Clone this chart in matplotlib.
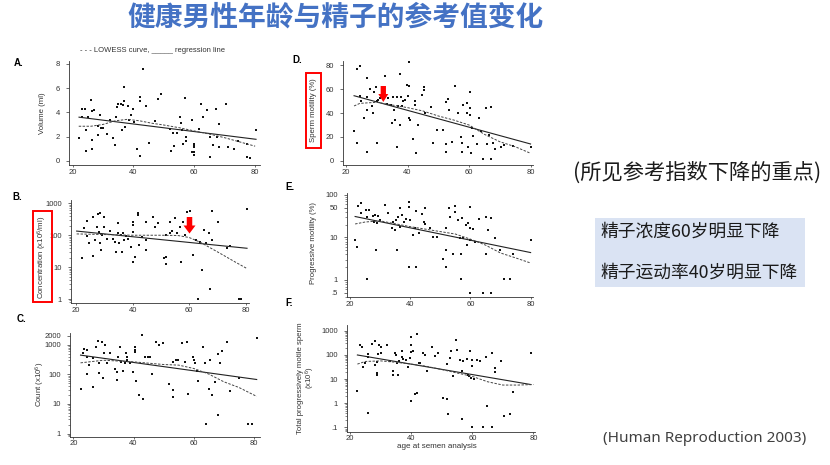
import numpy as np
import matplotlib.pyplot as plt
from matplotlib.patches import Rectangle, FancyArrow
from matplotlib.ticker import FixedLocator, FixedFormatter, LogLocator, NullFormatter

plt.rcParams['font.family'] = ['Liberation Sans', 'DejaVu Sans']
plt.rcParams['mathtext.default'] = 'regular'

W, H = 830, 465

# ---- A. volume
vol_age = [22.1, 23.0, 23.2, 24.2, 24.3, 24.3, 25.2, 26.0, 26.3, 26.3,
           26.3, 27.1, 28.2, 29.0, 28.2, 29.3, 30.1, 31.2, 32.3, 33.2,
           34.0, 34.3, 34.7, 35.0, 35.8, 36.1, 36.7, 37.0, 37.0, 37.2,
           38.1, 38.6, 39.2, 39.7, 40.3, 41.2, 42.2, 42.2, 42.2, 43.0,
           44.1, 45.2, 47.1, 48.2, 49.1, 52.0, 52.2, 53.1, 53.3, 54.2,
           55.3, 55.5, 55.9, 56.2, 57.0, 57.2, 57.2, 59.2, 59.9, 59.9,
           59.9, 59.9, 60.0, 59.4, 61.4, 62.2, 63.0, 64.1, 65.0, 65.2,
           66.1, 67.2, 67.4, 68.2, 68.2, 70.3, 71.2, 73.2, 74.3, 77.3,
           77.3, 78.4, 80.3]
vol = [1.9, 3.6, 4.3, 4.3, 2.5, 0.8, 3.6, 5.0, 4.1, 1.7,
       1.0, 4.2, 2.1, 3.8, 2.9, 2.7, 2.7, 2.2, 3.4, 1.9,
       1.3, 3.6, 4.4, 4.7, 4.7, 2.5, 4.6, 6.1, 4.9, 2.8,
       4.5, 3.4, 3.8, 4.3, 3.2, 1.0, 4.9, 5.3, 0.4, 7.6,
       4.5, 1.5, 3.3, 5.1, 5.5, 2.6, 0.8, 2.3, 1.2, 2.3,
       3.6, 3.1, 2.5, 1.4, 5.2, 2.0, 1.6, 3.4, 1.4, 1.2,
       1.1, 0.7, 0.5, 0.7, 2.6, 4.7, 3.6, 4.2, 2.0, 0.3,
       1.3, 4.3, 2.0, 3.0, 1.1, 4.7, 1.1, 1.0, 1.6, 1.35,
       0.33, 0.25, 2.5]
vol_reg_x = [22.1, 80.3]
vol_reg_y = [3.6, 1.77]
vol_low_x = [22, 26, 30, 34, 38, 42, 46, 50, 55, 60, 65, 70, 75, 80]
vol_low_y = [2.85, 2.85, 3.0, 3.3, 3.42, 3.3, 3.1, 2.95, 2.73, 2.46, 2.2, 1.9, 1.55, 1.2]

# ---- B. concentration
conc_age = [22.0, 22.8, 23.8, 24.0, 24.7, 25.9, 25.9, 26.7, 27.3, 27.9,
            28.2, 28.5, 28.5, 28.8, 29.1, 29.9, 30.0, 30.8, 32.0, 33.2,
            33.8, 34.0, 34.9, 34.9, 35.3, 35.8, 36.1, 36.5, 36.9, 37.6,
            38.5, 39.3, 40.0, 40.0, 40.2, 40.0, 40.8, 42.0, 42.0, 42.4,
            43.2, 44.9, 44.9, 44.9, 47.1, 48.1, 49.1, 51.1, 51.8, 52.0,
            52.0, 53.2, 53.4, 54.1, 54.9, 55.8, 56.7, 57.1, 57.9, 58.5,
            59.3, 60.2, 61.4, 62.6, 63.2, 63.8, 64.4, 65.2, 66.1, 67.1,
            67.3, 68.2, 68.2, 70.2, 73.4, 74.4, 77.5, 78.5, 80.5]
conc = [19, 174, 286, 98, 56, 382, 22, 71, 186, 452,
        129, 485, 56, 35, 103, 382, 186, 74, 138, 74,
        63, 30, 237, 114, 59, 103, 30, 121, 71, 95,
        74, 44, 210, 267, 129, 14, 21, 430, 485, 49,
        89, 267, 35, 71, 382, 186, 237, 20, 21, 12.4,
        103, 121, 267, 138, 340, 114, 186, 15, 267, 103,
        550, 575, 24, 71, 1.0, 63, 8.2, 145, 56, 114,
        2.1, 590, 71, 267, 39, 47, 1.02, 1.02, 660]
conc_reg_x = [20.2, 80.5]
conc_reg_y = [135, 39]
conc_low_x = [20.2, 30, 40, 50, 56, 60, 64, 68, 72, 76, 80.5]
conc_low_y = [110, 105, 100, 100, 98, 85, 60, 38, 24, 15, 9]

# ---- C. count
count_age = [22.4, 23.3, 23.5, 24.4, 24.6, 24.4, 25.3, 26.4, 26.6, 27.5,
             28.3, 28.5, 28.5, 29.4, 29.7, 30.3, 30.5, 31.3, 32.2, 33.8,
             34.4, 34.6, 34.9, 35.5, 35.8, 36.4, 37.2, 37.5, 37.7, 37.7,
             38.8, 39.7, 40.5, 40.5, 40.6, 40.8, 41.9, 42.7, 43.0, 43.8,
             44.7, 45.5, 46.0, 47.5, 48.6, 49.7, 51.9, 53.0, 53.0, 53.2,
             54.1, 54.9, 56.0, 57.1, 57.9, 58.2, 59.9, 60.2, 60.4, 61.0,
             61.5, 63.2, 63.7, 64.1, 65.2, 65.4, 65.9, 67.0, 68.2, 68.2,
             68.7, 69.3, 70.9, 72.0, 75.1, 78.1, 79.2, 80.9]
count = [33, 510, 695, 660, 393, 102, 205, 344, 38, 812,
         1370, 113, 234, 1265, 73, 510, 974, 234, 510, 146,
         122, 64, 372, 812, 265, 132, 234, 537, 393, 300,
         244, 122, 660, 812, 580, 61, 20, 2130, 15, 372,
         372, 372, 102, 1265, 974, 1170, 49, 29, 17, 265,
         316, 300, 1120, 265, 1265, 21, 393, 300, 244, 129,
         61, 855, 234, 2.1, 33, 300, 20, 56, 480, 4.2,
         234, 630, 1200, 27, 73, 2.1, 2.1, 1640]
count_reg_x = [22.4, 80.9]
count_reg_y = [447, 67]
count_low_x = [22.4, 30, 40, 50, 55, 60, 65, 70, 75, 80.9]
count_low_y = [245, 300, 265, 215, 205, 158, 102, 56, 36, 18]

# ---- D. sperm motility
mot_age = [22.6, 23.7, 24.5, 24.5, 24.8, 23.7, 25.8, 26.7, 26.7, 26.9,
           26.9, 27.8, 28.3, 28.7, 29.2, 29.7, 30.0, 30.0, 30.5, 31.0,
           31.6, 32.1, 32.7, 33.2, 33.8, 34.5, 34.8, 35.4, 35.7, 35.9,
           36.5, 36.7, 37.0, 37.5, 37.5, 37.8, 38.1, 38.6, 39.2, 39.7,
           40.3, 40.6, 40.6, 40.6, 40.8, 41.7, 42.4, 42.4, 42.6, 43.5,
           44.6, 45.3, 45.3, 45.7, 47.5, 48.4, 49.5, 51.6, 52.5, 52.5,
           52.5, 53.3, 53.6, 54.6, 55.4, 56.5, 57.4, 57.6, 57.6, 57.9,
           59.2, 59.2, 59.7, 60.3, 60.3, 60.3, 60.5, 60.8, 61.4, 62.5,
           63.3, 63.8, 64.4, 65.5, 65.7, 66.6, 67.3, 67.3, 67.9, 68.4,
           70.3, 71.3, 74.4, 80.0]
mot = [24.9, 77.2, 79.4, 54.5, 50.0, 14.5, 35.5, 69.1, 53.7, 42.5,
       7.6, 60.1, 45.9, 40.3, 57.3, 62.1, 14.5, 50.0, 50.9, 52.3,
       55.1, 53.1, 71.0, 47.3, 52.3, 46.7, 31.9, 53.7, 42.5, 34.1,
       53.1, 11.7, 45.9, 72.4, 29.9, 53.1, 45.9, 50.3, 50.9, 63.5,
       54.3, 83.1, 62.7, 35.5, 34.1, 17.9, 50.3, 46.7, 6.7, 29.9,
       55.1, 61.5, 59.3, 40.3, 44.8, 14.5, 25.7, 25.7, 49.5, 14.0,
       7.6, 51.5, 42.5, 15.9, 62.7, 40.3, 20.1, 14.5, 7.6, 46.7,
       48.7, 39.7, 11.7, 57.9, 43.9, 38.3, 6.2, 27.1, 20.7, 14.0,
       35.5, 25.2, 1.1, 43.9, 14.0, 21.5, 44.8, 1.1, 14.5, 9.5,
       11.7, 13.1, 12.3, 11.7]
mot_reg_x = [22.6, 80.0]
mot_reg_y = [54.5, 14.0]
mot_low_x = [22.6, 24.5, 30, 35, 40, 45, 50, 55, 60, 65, 70, 75, 80]
mot_low_y = [45.9, 48.1, 49.0, 46.7, 44.5, 41.7, 37.5, 34.1, 29.9, 22.1, 15.9, 11.7, 6.2]

# ---- E. progressive motility
prog_age = [21.5, 22.4, 22.5, 23.5, 23.5, 25.3, 25.5, 25.5, 26.4, 27.5,
            28.0, 28.3, 28.6, 28.9, 29.4, 30.0, 31.6, 32.7, 34.0, 34.4,
            35.0, 35.3, 35.7, 35.8, 36.6, 36.6, 37.2, 37.9, 38.6, 39.7,
            39.7, 39.7, 39.9, 40.8, 41.6, 41.9, 41.9, 43.0, 43.8, 44.7,
            44.9, 44.9, 46.6, 47.7, 48.8, 50.8, 51.9, 51.9, 51.9, 53.0,
            53.2, 54.1, 55.0, 55.0, 56.0, 56.5, 56.9, 56.9, 57.1, 57.6,
            58.7, 59.0, 59.3, 59.9, 59.9, 59.9, 59.9, 61.0, 61.5, 62.9,
            64.3, 65.2, 65.2, 66.0, 67.0, 67.0, 68.2, 69.8, 71.1, 73.1,
            74.0, 80.3]
prog = [8.7, 6.1, 55, 64, 37, 44, 30, 1.04, 44, 32,
        23.6, 34, 5.1, 21.6, 32, 25.9, 58, 37, 16.5, 23.6,
        15, 25.9, 5.1, 31, 49, 17.9, 34, 23.6, 26.9, 68,
        51, 2.0, 25.9, 11.5, 16.5, 42.6, 2.0, 12.5, 35.3, 23.6,
        20.8, 49, 16.5, 10.5, 10.5, 3.1, 16.5, 5.1, 2.0, 49,
        31, 4.1, 55, 39, 25.9, 9.6, 4.1, 1.04, 28, 9.6,
        19.6, 6.6, 21.6, 51, 16.5, 8.7, 0.5, 15.6, 8.0, 26.9,
        0.5, 31, 4.1, 15, 28, 0.5, 9.6, 5.1, 1.04, 1.04,
        4.1, 8.5]
prog_reg_x = [21.7, 80.0]
prog_reg_y = [31, 4.4]
prog_low_x = [21.7, 25, 30, 40, 50, 55, 60, 65, 70, 75, 80]
prog_low_y = [20.7, 23, 24.5, 17.9, 13.7, 12, 9.1, 6.6, 4.3, 3.3, 2.5]

# ---- F. total progressively motile sperm
tpm_age = [22.2, 23.1, 24.0, 24.1, 24.9, 26.0, 26.0, 26.0, 27.1, 28.2,
           28.2, 28.7, 28.9, 28.9, 29.3, 29.5, 30.0, 30.1, 32.0, 33.1,
           34.0, 34.0, 34.7, 35.1, 35.5, 35.8, 36.1, 36.9, 36.9, 37.2,
           38.3, 39.1, 39.6, 39.9, 39.9, 39.9, 39.9, 40.7, 41.1, 41.9,
           41.9, 42.4, 43.0, 43.8, 44.5, 45.1, 46.7, 47.8, 48.9, 50.5,
           51.6, 51.6, 51.9, 52.7, 52.9, 53.8, 54.6, 54.9, 56.0, 56.5,
           56.5, 56.9, 58.2, 58.7, 59.0, 59.3, 59.5, 59.8, 59.8, 60.4,
           59.8, 61.5, 62.5, 63.6, 64.5, 64.7, 66.4, 66.4, 67.5, 67.5,
           69.3, 70.4, 72.4, 73.2, 79.1]
tpm = [3.2, 255, 217, 31, 46, 106, 86, 0.39, 295, 370,
       39, 50, 18, 15.5, 110, 270, 217, 117, 270, 54,
       22.4, 14.5, 117, 100, 46, 15.5, 54, 86, 145, 67,
       63, 31, 73, 136, 255, 550, 1.2, 145, 2.4, 725,
       2.8, 46, 46, 117, 100, 21, 217, 94, 117, 1.65,
       1.5, 42, 0.35, 78, 145, 13, 405, 160, 63, 22.4,
       0.23, 54, 67, 15.5, 13, 145, 11.3, 36, 63, 9.7,
       0.1, 63, 57, 0.1, 86, 0.81, 117, 0.1, 29, 20,
       57, 0.29, 0.37, 2.9, 117]
tpm_reg_x = [22.4, 79.1]
tpm_reg_y = [100, 6.0]
tpm_low_x = [22.4, 25, 30, 35, 40, 45, 50, 55, 60, 65, 70, 75, 80]
tpm_low_y = [42, 54, 57, 50, 42, 34, 25, 18, 13, 7.8, 5.7, 5.7, 6.0]

x_ticks = [20, 40, 60, 80]

fig = plt.figure(figsize=(W / 100, H / 100), dpi=100)


def panel(left, top, right, bottom, xlim, ylim, log=False):
    ax = fig.add_axes([left / W, 1 - bottom / H, (right - left) / W, (bottom - top) / H])
    ax.patch.set_alpha(0)
    for s in ['top', 'right']:
        ax.spines[s].set_visible(False)
    for s in ['left', 'bottom']:
        ax.spines[s].set_linewidth(0.6)
        ax.spines[s].set_color('#333333')
    if log:
        ax.set_yscale('log')
        ax.yaxis.set_minor_locator(LogLocator(base=10, subs=np.arange(2, 10)))
        ax.yaxis.set_minor_formatter(NullFormatter())
    ax.set_xlim(*xlim)
    ax.set_ylim(*ylim)
    ax.set_xticks(x_ticks)
    ax.tick_params(axis='x', length=1.5, width=0.5, pad=1.2, labelsize=5.5,
                   colors='#333333')
    ax.tick_params(axis='y', which='major', length=2.5, width=0.5, pad=4,
                   labelsize=5.5, colors='#333333')
    ax.tick_params(axis='y', which='minor', length=1.5, width=0.4, colors='#333333')
    return ax


def draw(ax, xs, ys, rx, ry, lx, ly):
    ax.scatter(xs, ys, s=1.6, marker='s', color='#111111', linewidths=0)
    ax.plot(rx, ry, color='#222222', lw=0.8)
    ax.plot(lx, ly, color='#444444', lw=0.7, ls=(0, (2.5, 1.5)))


axA = panel(69, 60.7, 260, 165.3, (18.8, 81.6), (-0.38, 8.27))
draw(axA, vol_age, vol, vol_reg_x, vol_reg_y, vol_low_x, vol_low_y)
axA.set_yticks([0, 2, 4, 6, 8])

axB = panel(71, 200, 249, 303, (18.2, 81.2), (0.75, 1273), log=True)
draw(axB, conc_age, conc, conc_reg_x, conc_reg_y, conc_low_x, conc_low_y)
conc_ticks = [1, 10, 100, 1000]
axB.yaxis.set_major_locator(FixedLocator(conc_ticks))
axB.yaxis.set_major_formatter(FixedFormatter(['1', '10', '100', '1000']))

axC = panel(70, 332.7, 260, 436.7, (18.9, 82), (0.78, 2560), log=True)
draw(axC, count_age, count, count_reg_x, count_reg_y, count_low_x, count_low_y)
count_ticks = [1, 10, 100, 1000, 2000]
axC.yaxis.set_major_locator(FixedLocator(count_ticks))
axC.yaxis.set_major_formatter(FixedFormatter(['1', '10', '100', '1000', '2000']))

axD = panel(343.3, 60.7, 533.3, 165.3, (19.1, 80.9), (-3.9, 83.9))
draw(axD, mot_age, mot, mot_reg_x, mot_reg_y, mot_low_x, mot_low_y)
axD.set_yticks([0, 20, 40, 60, 80])

axE = panel(346.7, 193.3, 533.3, 297.3, (18.9, 80.9), (0.39, 109), log=True)
draw(axE, prog_age, prog, prog_reg_x, prog_reg_y, prog_low_x, prog_low_y)
prog_ticks = [0.5, 1, 10, 50, 100]
axE.yaxis.set_major_locator(FixedLocator(prog_ticks))
axE.yaxis.set_major_formatter(FixedFormatter(['.5', '1', '10', '50', '100']))

axF = panel(346.7, 325, 535, 431.7, (18.9, 80.5), (0.067, 1740), log=True)
draw(axF, tpm_age, tpm, tpm_reg_x, tpm_reg_y, tpm_low_x, tpm_low_y)
tpm_ticks = [0.1, 1, 10, 100, 1000]
axF.yaxis.set_major_locator(FixedLocator(tpm_ticks))
axF.yaxis.set_major_formatter(FixedFormatter(['.1', '1', '10', '100', '1000']))

# overlay in pixel coordinates for the slide texts and marks
ov = fig.add_axes([0, 0, 1, 1], zorder=10)
ov.set_xlim(0, W)
ov.set_ylim(H, 0)
ov.axis('off')

cjk = ['Noto Sans CJK SC', 'DejaVu Sans']
ov.text(336, 18, '健康男性年龄与精子的参考值变化', ha='center', va='center',
        fontsize=20, fontweight='bold', color='#4472C4', family=cjk)
ov.text(573, 173, '(所见参考指数下降的重点)', ha='left', va='center',
        fontsize=15.3, color='#1a1a1a', family=cjk)
ov.add_patch(Rectangle((595, 218), 210, 69, facecolor='#DAE3F3', edgecolor='none'))
ov.text(600, 232, '精子浓度60岁明显下降', ha='left', va='center',
        fontsize=12.8, color='#1a1a1a', family=cjk)
ov.text(600, 273, '精子运动率40岁明显下降', ha='left', va='center',
        fontsize=12.8, color='#1a1a1a', family=cjk)
ov.text(705, 438, '(Human Reproduction 2003)', ha='center', va='center',
        fontsize=11, color='#404040', family=['Noto Sans', 'DejaVu Sans'])

ov.text(152, 51, '- - - LOWESS curve, _____ regression line', ha='center',
        va='center', fontsize=5.5, color='#333333')

for lab, x, y in [('A.', 19, 62.5), ('B.', 17.5, 197), ('C.', 21.5, 319),
                  ('D.', 297.5, 60), ('E.', 290, 187), ('F.', 289, 303)]:
    ov.text(x, y, lab, ha='center', va='center', fontsize=7, fontweight='bold')

ylab = dict(rotation=90, ha='center', va='center', fontsize=5.6, color='#333333')
ov.text(42, 113, 'Volume (ml)', **ylab)
ov.text(42, 257, 'Concentration (x10$^6$/ml)', **ylab)
ov.text(40, 384, 'Count (x10$^6$)', **ylab)
ov.text(313, 110, 'Sperm motility (%)', **ylab)
ov.text(313, 243, 'Progressive motility (%)', **ylab)
ov.text(300, 378, 'Total progressively motile sperm', **ylab)
ov.text(310, 378, '(x10$^6$)', **ylab)
ov.text(437, 446, 'age at semen analysis', ha='center', va='center',
        fontsize=5.8, color='#333333')

# red highlight boxes and arrows
ov.add_patch(Rectangle((33, 211), 19, 91, fill=False, edgecolor='#ff0000', lw=1.4))
ov.add_patch(Rectangle((306, 73), 15, 75, fill=False, edgecolor='#ff0000', lw=1.4))
ov.add_patch(FancyArrow(189.5, 217, 0, 16.5, width=5.5, head_width=12, head_length=8,
                        length_includes_head=True, color='#ff0000', lw=0))
ov.add_patch(FancyArrow(383.3, 86, 0, 16, width=5.3, head_width=10, head_length=8,
                        length_includes_head=True, color='#ff0000', lw=0))

fig.savefig('out.png', dpi=100)
